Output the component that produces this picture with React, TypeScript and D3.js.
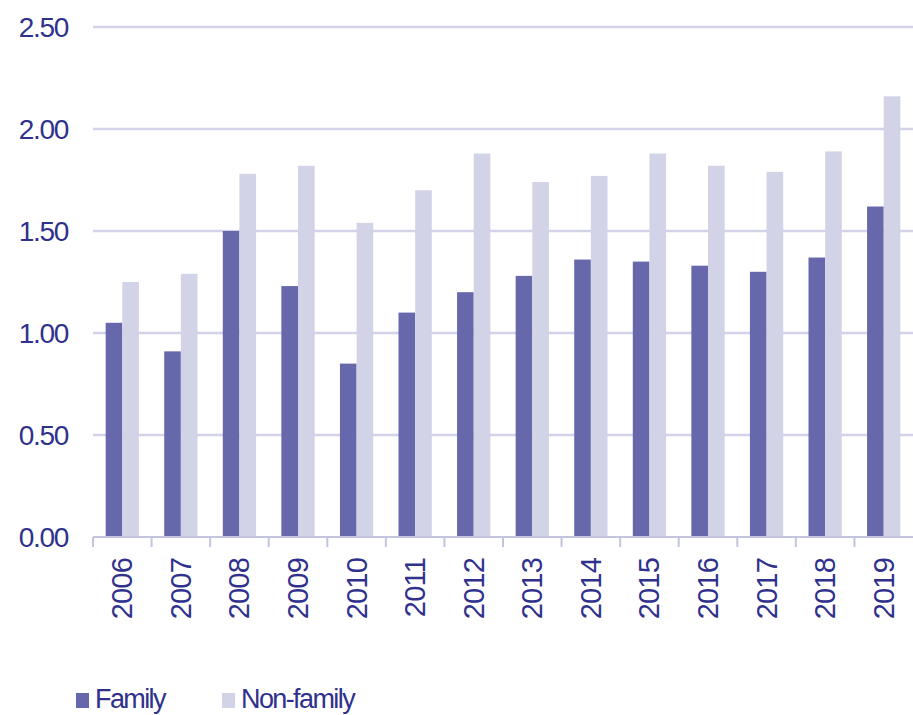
import React, { useEffect, useRef } from "react";
import * as d3 from "d3";

const years = ["2006", "2007", "2008", "2009", "2010", "2011", "2012", "2013", "2014", "2015", "2016", "2017", "2018", "2019"];
const family = [1.05, 0.91, 1.5, 1.23, 0.85, 1.1, 1.2, 1.28, 1.36, 1.35, 1.33, 1.3, 1.37, 1.62];
const nonFamily = [1.25, 1.29, 1.78, 1.82, 1.54, 1.7, 1.88, 1.74, 1.77, 1.88, 1.82, 1.79, 1.89, 2.16];
const series = ["Family", "Non-family"];
const yTicks = [0, 0.5, 1, 1.5, 2, 2.5];

const colors: Record<string, string> = { Family: "#6767ab", "Non-family": "#d3d3e7" };
const textColor = "#2f318c";
const font = "'Liberation Sans', Arial, Helvetica, sans-serif";

export default function App() {
  const ref = useRef<SVGSVGElement>(null);

  useEffect(() => {
    const svg = d3.select(ref.current);
    svg.selectAll("*").remove();

    const left = 93, right = 913, top = 27, bottom = 537;

    const x = d3.scaleBand().domain(years).range([left, right]);
    const xs = d3.scaleBand().domain(series).range([0, x.bandwidth()]).paddingOuter(0.76);
    const y = d3.scaleLinear().domain([0, 2.5]).range([bottom, top]);

    // gridlines
    svg.append("g")
      .selectAll("line")
      .data(yTicks.filter(d => d > 0))
      .join("line")
      .attr("x1", left)
      .attr("x2", right)
      .attr("y1", d => y(d))
      .attr("y2", d => y(d))
      .attr("stroke", "#d2d2e9")
      .attr("stroke-width", 2.5);

    // y labels
    svg.append("g")
      .selectAll("text")
      .data(yTicks)
      .join("text")
      .attr("x", 68)
      .attr("y", d => y(d))
      .attr("dy", "0.36em")
      .attr("text-anchor", "end")
      .attr("font-family", font)
      .attr("font-size", 28)
      .attr("letter-spacing", -1.3)
      .attr("fill", textColor)
      .text(d => d.toFixed(2));

    // bars
    const rows = years.map((yr, i) => ({ year: yr, values: [family[i], nonFamily[i]] }));
    const g = svg.append("g")
      .selectAll("g")
      .data(rows)
      .join("g")
      .attr("transform", d => `translate(${x(d.year)},0)`);

    g.selectAll("rect")
      .data(d => series.map((s, j) => ({ key: s, value: d.values[j] })))
      .join("rect")
      .attr("x", d => xs(d.key)!)
      .attr("width", xs.bandwidth())
      .attr("y", d => y(d.value))
      .attr("height", d => bottom - y(d.value))
      .attr("fill", d => colors[d.key]);

    // x axis
    const axis = svg.append("g");
    axis.append("line")
      .attr("x1", left)
      .attr("x2", right)
      .attr("y1", bottom)
      .attr("y2", bottom)
      .attr("stroke", "#c4c4df")
      .attr("stroke-width", 2);
    axis.selectAll("line.tick")
      .data(years)
      .join("line")
      .attr("class", "tick")
      .attr("x1", d => x(d)!)
      .attr("x2", d => x(d)!)
      .attr("y1", bottom)
      .attr("y2", bottom + 10)
      .attr("stroke", "#c4c4df")
      .attr("stroke-width", 2);

    axis.selectAll("text")
      .data(years)
      .join("text")
      .attr("transform", d => `translate(${x(d)! + x.bandwidth() / 2 + 10},${558}) rotate(-90)`)
      .attr("text-anchor", "end")
      .attr("font-family", font)
      .attr("font-size", 29)
      .attr("letter-spacing", -0.8)
      .attr("fill", textColor)
      .text(d => d);

    // legend
    const legendX = [76, 222];
    const lg = svg.append("g")
      .selectAll("g")
      .data(series)
      .join("g")
      .attr("transform", (d, i) => `translate(${legendX[i]},0)`);
    lg.append("rect")
      .attr("x", 0)
      .attr("y", 693)
      .attr("width", 13)
      .attr("height", 15)
      .attr("fill", d => colors[d]);
    lg.append("text")
      .attr("x", 19)
      .attr("y", 708)
      .attr("font-family", font)
      .attr("font-size", 27)
      .attr("letter-spacing", -1.6)
      .attr("fill", textColor)
      .text(d => d);
  }, []);

  return (
    <svg
      ref={ref}
      width={913}
      height={715}
      style={{ position: "absolute", left: 0, top: 0, background: "#fff" }}
    />
  );
}
